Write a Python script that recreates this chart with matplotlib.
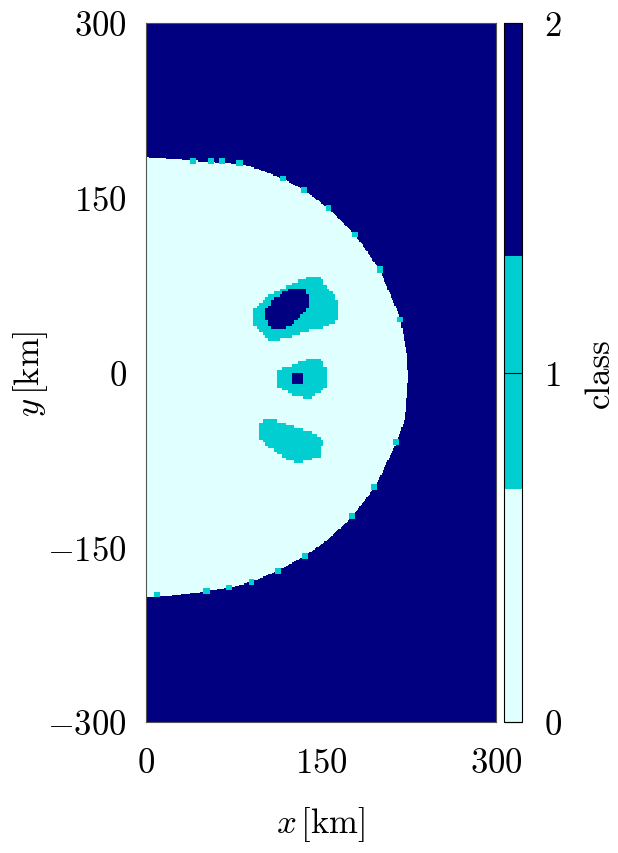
import numpy as np
import matplotlib
matplotlib.use('Agg')
import matplotlib.pyplot as plt
from matplotlib.colors import ListedColormap
from matplotlib.path import Path

plt.rcParams['font.family'] = 'serif'
plt.rcParams['font.serif'] = ['cmr10']
plt.rcParams['mathtext.fontset'] = 'cm'
plt.rcParams['axes.unicode_minus'] = False

# outline of the class-0 region (km)
edge_x = [0, 40.5, 80.6, 96.0, 117.7, 136.3, 156.3, 179.1, 200.6, 217.7, 224.0, 224.8,
          222.0, 214.9, 196.3, 176.3, 154.9, 136.3, 113.4, 90.6, 70.5, 52.0, 17.7, 0]
edge_y = [184.7, 181.8, 179.0, 174.7, 166.1, 156.1, 140.9, 118.9, 87.4, 47.4, 14.4, -5.6,
          -39.9, -59.9, -98.5, -124.3, -144.4, -157.3, -170.1, -179.6, -185.0, -187.8, -192.1, -193.0]

# isolated class-1 cells sitting on the outline
dots_x = [40.5, 55.5, 65.7, 80.0, 117.7, 135.7, 156.4, 179.1, 200.6, 217.7,
          214.9, 195.7, 176.3, 136.3, 113.4, 90.6, 71.4, 52.0, 9.2]
dots_y = [181.8, 181.3, 181.3, 179.6, 166.1, 156.1, 141.4, 118.9, 88.0, 45.9,
          -59.4, -98.5, -123.8, -157.3, -170.1, -179.6, -184.4, -187.3, -190.7]

# class-1 blobs
blob1_x = [92.0, 93.4, 100.5, 107.7, 123.4, 137.7, 153.4, 164.8, 166.3, 162.0, 154.9, 149.1,
           140.6, 133.5, 123.4, 109.1, 99.2, 93.4]
blob1_y = [51.7, 41.6, 33.0, 27.3, 30.2, 35.9, 38.8, 45.9, 57.3, 65.9, 74.5, 81.7,
           81.7, 80.3, 76.0, 68.8, 61.6, 54.5]
blob2_x = [112.0, 113.4, 123.4, 127.7, 140.6, 147.7, 154.9, 155.4, 150.6, 142.0, 137.7, 123.4, 114.9]
blob2_y = [-1.3, -11.3, -17.0, -19.9, -22.7, -17.0, -12.7, 1.5, 11.6, 13.0, 11.6, 5.8, 3.0]
blob3_x = [99.2, 96.3, 102.0, 123.4, 133.5, 149.1, 152.0, 143.4, 122.0, 109.1, 100.5]
blob3_y = [-41.4, -54.2, -61.4, -75.7, -77.1, -71.4, -58.5, -51.3, -44.2, -39.9, -39.9]

# class-2 cores inside blobs
core1_x = [102.0, 107.7, 114.9, 123.4, 132.0, 139.1, 140.6, 136.3, 129.2, 120.6, 112.0, 106.3, 102.0]
core1_y = [47.4, 38.8, 35.9, 40.2, 47.4, 56.0, 65.9, 71.7, 73.1, 70.2, 64.5, 58.8, 51.7]
core2_x = [124.9, 126.3, 133.5, 135.4, 127.7]
core2_y = [-1.3, -9.9, -11.8, 0.2, 0.7]

colors = ['#E0FFFF', '#00CED1', '#000080']
xticks = [0, 150, 300]
yticks = [-300, -150, 0, 150, 300]
cticks = [0, 1, 2]

# build the class field on a 1 km grid
xc = np.arange(0.5, 300, 1.0)
yc = np.arange(-299.5, 300, 1.0)
X, Y = np.meshgrid(xc, yc)
pts = np.column_stack([X.ravel(), Y.ravel()])
cell = 2.5
Xb = np.floor(X / cell) * cell + cell / 2
Yb = np.floor(Y / cell) * cell + cell / 2
pts_b = np.column_stack([Xb.ravel(), Yb.ravel()])

def inside(px, py, p):
    return Path(np.column_stack([px, py])).contains_points(p).reshape(X.shape)

cls = np.full(X.shape, 2)
cls[inside(edge_x, edge_y, pts)] = 0
for bx, by in [(blob1_x, blob1_y), (blob2_x, blob2_y), (blob3_x, blob3_y)]:
    cls[inside(bx, by, pts_b)] = 1
for bx, by in [(core1_x, core1_y), (core2_x, core2_y)]:
    cls[inside(bx, by, pts_b)] = 2
for dx, dy in zip(dots_x, dots_y):
    cls[(np.abs(X - dx) <= 2.5) & (np.abs(Y - dy) <= 2.5)] = 1

fs = 25
fig = plt.figure(figsize=(6.18, 8.54), dpi=100)
ax = fig.add_axes([146/618, 1 - 723/854, 350/618, 699/854])
cax = fig.add_axes([504/618, 1 - 723/854, 18/618, 699/854])

cmap = ListedColormap(colors)
im = ax.imshow(cls, origin='lower', extent=[0, 300, -300, 300], cmap=cmap,
               vmin=0, vmax=2, interpolation='nearest', aspect='auto')
ax.set_xlim(0, 300)
ax.set_ylim(-300, 300)
ax.set_xticks(xticks, labels=[f'${v}$' for v in xticks])
ax.set_yticks(yticks, labels=[f'${v}$' for v in yticks])
ax.tick_params(axis='x', length=0, labelsize=fs, pad=18)
ax.tick_params(axis='y', length=0, labelsize=fs, pad=14)
for s in ax.spines.values():
    s.set_linewidth(0.8)
    s.set_color('#555555')
ax.set_xlabel(r'$x\,[\mathrm{km}]$', fontsize=fs, labelpad=18)
ax.set_ylabel(r'$y\,[\mathrm{km}]$', fontsize=fs)
ax.yaxis.set_label_coords(-0.275, 0.5)

cb = fig.colorbar(im, cax=cax, ticks=cticks)
cb.ax.set_yticklabels([f'${v}$' for v in cticks])
cb.ax.tick_params(direction='in', length=13, width=0.8, labelsize=fs, pad=16)
cb.outline.set_linewidth(0.8)
cb.set_label('class', fontsize=fs, labelpad=16)

fig.savefig('out.png', dpi=100)
